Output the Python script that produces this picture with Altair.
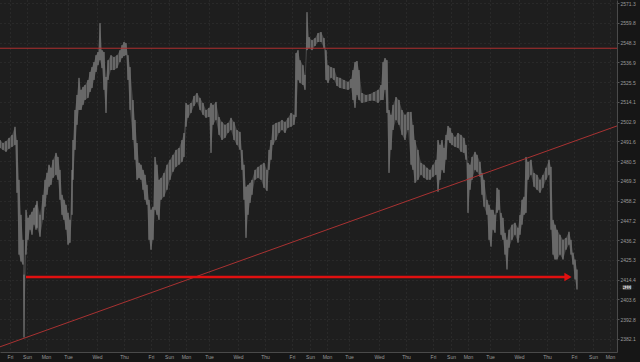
import altair as alt
import pandas as pd

# ---- price bars (session index, high, low) ----
t = [0,3,6,9,12,15,17,19,21,23,24,26,28,30,32,34,36,37,40,43,45,47,49,51,53,56,58,60,62,64,66,68,70,72,73,75,77,79,81,83,85,88,90,92,94,96,98,100,102,104,106,108,111,114,117,120,122,124,126,128,130,133,135,137,139,141,143,145,147,149,151,153,155,157,159,161,164,167,170,173,176,179,182,184,186,188,191,194,197,200,203,206,209,211,213,216,219,222,225,228,231,234,237,240,242,244,246,248,250,252,255,258,261,264,267,269,271,273,276,279,282,285,288,291,294,296,298,300,303,305,307,309,312,315,318,321,324,326,328,331,334,337,340,344,348,351,353,355,357,359,362,366,370,374,378,381,383,385,387,389,391,393,396,399,402,405,408,411,413,415,418,421,424,427,430,433,436,438,440,442,444,446,448,450,452,455,458,461,464,466,468,470,472,475,477,480,482,484,487,489,491,493,495,497,499,501,503,505,507,509,512,515,518,520,522,524,526,528,531,534,537,540,543,546,549,551,553,555,557,560,563,566,569,571,573,575,577]
high = [2492.4,2490.7,2491.8,2493.6,2495.3,2499.9,2492.4,2469.9,2450.3,2436.4,2417.2,2453.1,2448.6,2450.3,2452.0,2454.2,2455.9,2458.1,2450.3,2461.5,2469.9,2473.8,2478.4,2476.7,2481.2,2485.1,2482.8,2475.5,2461.5,2458.7,2455.9,2451.4,2447.5,2475.5,2492.4,2509.5,2518.1,2527.9,2521.0,2522.7,2523.8,2526.7,2531.3,2534.1,2537.0,2541.0,2542.8,2559.6,2543.9,2542.8,2528.4,2538.1,2541.0,2539.9,2541.0,2543.9,2546.8,2548.6,2548.0,2541.0,2534.1,2515.2,2503.8,2490.7,2479.5,2478.4,2475.5,2472.7,2467.1,2458.7,2453.1,2454.8,2482.8,2478.4,2469.9,2471.0,2473.8,2478.4,2481.2,2484.0,2486.8,2487.9,2492.4,2496.4,2513.5,2512.4,2513.5,2517.5,2519.2,2516.4,2513.5,2509.5,2510.7,2513.5,2512.4,2514.1,2505.5,2502.7,2501.0,2502.1,2505.0,2502.7,2498.1,2497.0,2486.8,2478.4,2466.0,2467.1,2468.2,2469.9,2475.5,2477.2,2478.4,2479.5,2475.5,2486.8,2492.4,2501.0,2502.1,2502.7,2503.8,2502.7,2505.0,2507.8,2506.7,2542.2,2543.9,2538.1,2535.2,2529.6,2566.0,2551.5,2549.7,2550.9,2553.8,2554.4,2550.9,2543.9,2535.2,2534.1,2533.5,2528.4,2527.9,2526.7,2525.6,2527.3,2532.4,2537.0,2537.6,2532.4,2519.2,2518.1,2518.6,2519.8,2521.0,2523.8,2537.0,2539.3,2538.1,2509.5,2506.7,2512.4,2516.9,2515.2,2509.5,2506.7,2508.4,2508.4,2501.0,2492.4,2486.8,2479.5,2478.4,2476.7,2475.5,2478.4,2481.2,2492.4,2489.6,2492.4,2487.9,2495.3,2500.4,2499.3,2496.4,2494.1,2496.4,2495.3,2493.6,2489.6,2479.5,2478.4,2482.8,2485.7,2484.0,2480.0,2473.8,2469.9,2458.7,2455.9,2453.1,2453.1,2450.3,2465.4,2464.3,2451.4,2448.6,2440.3,2436.4,2442.0,2444.8,2445.9,2443.1,2450.3,2458.7,2460.4,2482.8,2480.0,2481.2,2473.8,2472.7,2469.9,2472.7,2476.7,2481.2,2477.2,2447.5,2444.8,2442.0,2439.2,2436.4,2437.5,2440.9,2436.4,2429.3,2425.5,2420.0]
low = [2487.9,2486.8,2485.7,2487.4,2488.5,2489.6,2462.6,2428.2,2424.4,2422.7,2382.8,2428.2,2436.4,2442.0,2439.2,2444.8,2442.0,2443.1,2438.1,2447.5,2454.8,2461.5,2466.0,2467.1,2471.0,2472.7,2469.9,2458.7,2450.3,2447.5,2442.0,2433.7,2434.8,2450.3,2469.9,2486.8,2501.0,2509.5,2509.5,2512.4,2515.2,2516.4,2519.8,2522.1,2526.7,2531.3,2535.2,2538.1,2533.5,2521.0,2507.8,2526.7,2532.4,2532.4,2533.5,2537.0,2539.3,2540.5,2541.0,2526.7,2509.5,2492.4,2481.2,2469.9,2471.0,2469.9,2464.3,2458.7,2455.9,2436.4,2430.9,2436.4,2453.1,2450.3,2447.5,2458.7,2460.4,2464.3,2469.9,2474.4,2477.2,2478.4,2480.0,2482.8,2499.9,2505.0,2507.8,2511.8,2514.1,2509.5,2506.7,2505.0,2505.5,2485.1,2501.0,2503.8,2495.3,2492.4,2493.6,2496.4,2498.1,2492.4,2489.6,2486.8,2475.5,2458.7,2437.5,2450.3,2457.0,2461.5,2469.9,2471.0,2469.9,2465.4,2463.7,2475.5,2481.2,2489.6,2492.4,2496.4,2498.1,2496.4,2499.3,2499.9,2501.0,2505.5,2526.7,2524.9,2523.8,2521.0,2543.9,2545.1,2543.9,2546.3,2548.6,2548.6,2545.1,2526.7,2524.9,2527.9,2526.7,2523.2,2522.1,2521.5,2521.0,2522.1,2515.2,2510.7,2518.1,2515.2,2513.5,2514.1,2514.7,2514.7,2513.5,2515.2,2515.2,2521.0,2507.8,2473.8,2486.8,2498.1,2503.8,2501.0,2495.3,2492.4,2498.1,2478.4,2475.5,2468.2,2469.9,2472.7,2471.0,2469.9,2469.9,2471.6,2472.7,2463.2,2469.9,2475.5,2473.8,2481.2,2492.4,2490.7,2489.6,2488.5,2487.9,2485.7,2485.1,2481.2,2451.4,2464.3,2469.9,2475.5,2474.4,2471.6,2461.5,2454.8,2450.3,2436.4,2432.6,2442.0,2440.3,2451.4,2453.1,2439.2,2436.4,2428.2,2420.0,2432.0,2436.4,2439.2,2434.8,2439.2,2444.8,2450.3,2451.4,2469.9,2472.7,2466.0,2464.3,2462.6,2465.4,2469.9,2472.7,2442.0,2428.2,2425.5,2425.5,2428.2,2425.5,2430.9,2433.7,2428.2,2422.7,2414.5,2409.0]

# ---- axis tick values and labels ----
price_ticks = [2571.3,2559.8,2548.3,2536.9,2525.5,2514.1,2502.9,2491.6,2480.5,2469.3,2458.2,2447.2,2436.2,2425.3,2414.4,2403.6,2392.8,2382.1]
day_pos = [10,27,46,68,97,124,151,169,186,209,238,265,292,310,327,349,379,406,433,451,468,490,519,547,574,593,610]
day_lab = ["Fri","Sun","Mon","Tue","Wed","Thu","Fri","Sun","Mon","Tue","Wed","Thu","Fri","Sun","Mon","Tue","Wed","Thu","Fri","Sun","Mon","Tue","Wed","Thu","Fri","Sun","Mon"]

# ---- annotations ----
resistance = [2545.0]
trend_t = [0, 617]
trend_p = [2377.8, 2500.4]
arrow_t = [26, 565]
arrow_p = [2415.9, 2415.9]
arrow_head_t = [568]
last_price = [2410.2]

bars = pd.DataFrame({"t": t, "high": high, "low": low})
res_df = pd.DataFrame({"p": resistance})
trend_df = pd.DataFrame({"t": trend_t, "p": trend_p})
arrow_df = pd.DataFrame({"t": arrow_t, "p": arrow_p})
head_df = pd.DataFrame({"t": arrow_head_t, "p": [arrow_p[0]]})
last_df = pd.DataFrame({"p": last_price, "lbl": [f"{v:.1f}" for v in last_price]})

xscale = alt.Scale(domain=[0, 617], nice=False, zero=False)
yscale = alt.Scale(type="log", domain=[2375.0, 2573.1], nice=False, zero=False)

pos_list = "[" + ",".join(str(v) for v in day_pos) + "]"
lab_list = "[" + ",".join(f"'{v}'" for v in day_lab) + "]"

xaxis = alt.Axis(values=day_pos, labelExpr=f"{lab_list}[indexof({pos_list}, datum.value)]",
                 title=None, grid=True, gridColor="#353535", gridDash=[1, 3],
                 labelFontSize=5, labelColor="#9a9a9a", labelFont="Liberation Sans",
                 labelOverlap=False, labelBound=False, labelFlush=False,
                 tickSize=0, labelPadding=2, domainColor="#4a4a4a")
yaxis = alt.Axis(values=price_ticks, format=".1f", orient="right", title=None,
                 grid=True, gridColor="#353535", gridDash=[1, 3],
                 labelFontSize=5, labelColor="#9a9a9a", labelFont="Liberation Sans",
                 labelOverlap=False, labelBound=False, labelFlush=False,
                 tickSize=2, tickColor="#555555", labelPadding=1, domainColor="#4a4a4a")

band = alt.Chart(bars).mark_area(color="#4a4a4a", opacity=0.9).encode(
    x=alt.X("t:Q", scale=xscale, axis=xaxis),
    y=alt.Y("low:Q", scale=yscale, axis=yaxis),
    y2="high:Q",
)
rules = alt.Chart(bars).mark_rule(color="#8a8a8a", strokeWidth=1).encode(
    x=alt.X("t:Q", scale=xscale, axis=xaxis),
    y=alt.Y("low:Q", scale=yscale, axis=yaxis),
    y2="high:Q",
)
res = alt.Chart(res_df).mark_rule(color="#b03030", strokeWidth=1).encode(
    y=alt.Y("p:Q", scale=yscale, axis=yaxis)
)
trend = alt.Chart(trend_df).mark_line(color="#a83232", strokeWidth=1).encode(
    x=alt.X("t:Q", scale=xscale, axis=xaxis), y=alt.Y("p:Q", scale=yscale, axis=yaxis)
)
arrow = alt.Chart(arrow_df).mark_line(color="#e01010", strokeWidth=2.5).encode(
    x=alt.X("t:Q", scale=xscale, axis=xaxis), y=alt.Y("p:Q", scale=yscale, axis=yaxis)
)
head = alt.Chart(head_df).mark_point(shape="triangle-right", filled=True, color="#e01010",
                                     size=70, opacity=1).encode(
    x=alt.X("t:Q", scale=xscale, axis=xaxis), y=alt.Y("p:Q", scale=yscale, axis=yaxis)
)
box = alt.Chart(last_df).mark_point(shape="M-1,-0.45L1,-0.45L1,0.45L-1,0.45Z", filled=True,
                                    color="#cfcfcf", size=72, opacity=1).encode(
    x=alt.value(627), y=alt.Y("p:Q", scale=yscale, axis=yaxis)
)
boxtxt = alt.Chart(last_df).mark_text(fontSize=5, color="#222222", font="Liberation Sans").encode(
    x=alt.value(627), y=alt.Y("p:Q", scale=yscale, axis=yaxis), text="lbl:N"
)

chart = alt.layer(band, rules, res, trend, arrow, head, box, boxtxt).properties(
    width=617, height=352,
    autosize=alt.AutoSizeParams(type="none"),
    padding={"left": 0, "top": 0, "right": 23, "bottom": 10},
    background="#161616",
).configure_view(fill="#1e1e1e", stroke=None).configure_axis(labelOverlap=False)

chart.save("out.html", embed_options={"renderer": "svg", "actions": False})
